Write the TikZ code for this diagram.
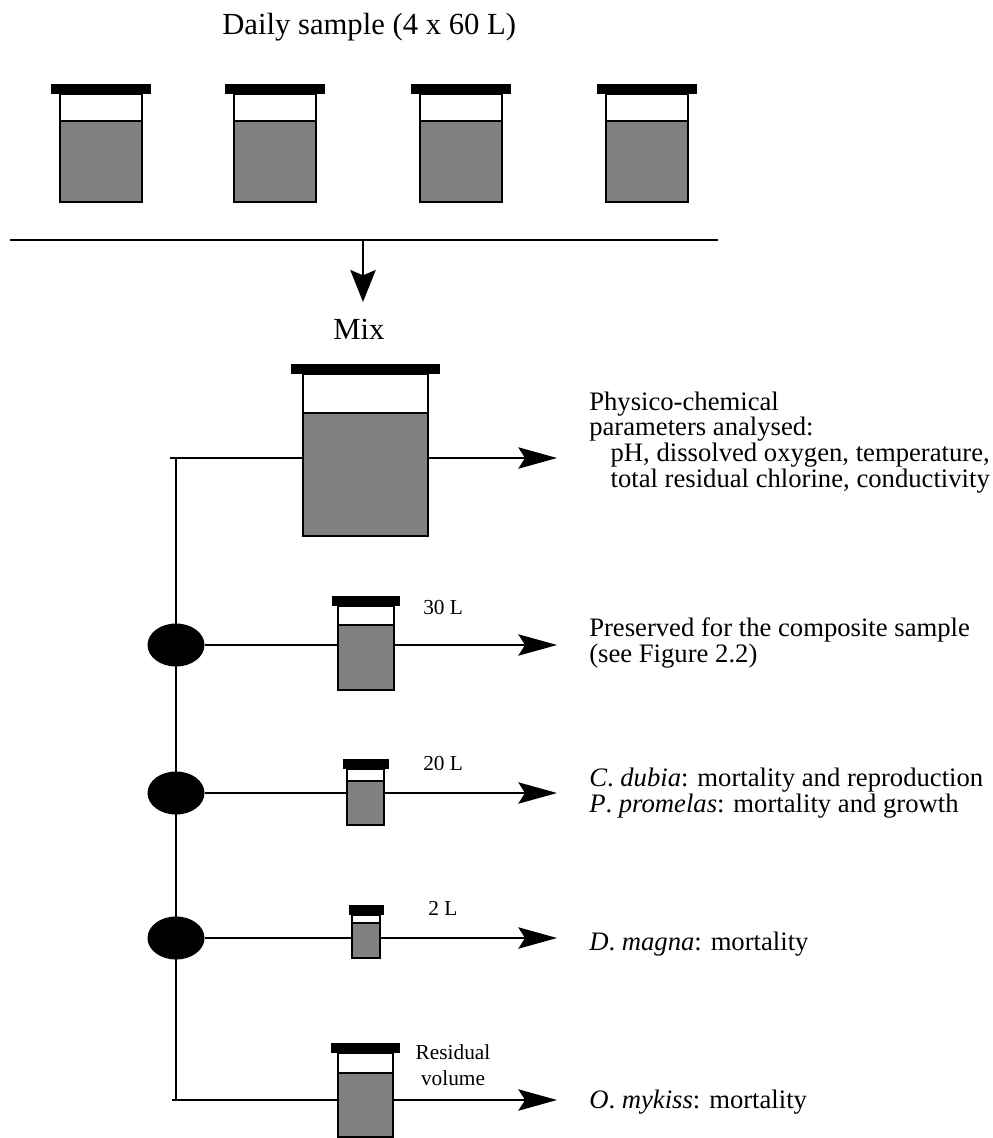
\documentclass[tikz,border=0pt]{standalone}
\usepackage{fontspec}
\setmainfont{Liberation Serif}
\usetikzlibrary{arrows.meta,positioning,calc,shapes.geometric}
% jar: #1 name, #2 centre x, #3 top, #4 bottom, #5 liquid level, #6 width, #7 lid width
\newcommand{\jar}[7]{%
  \node[jarbody, minimum width=#6*0.75pt, minimum height=(#4-#3)*0.75pt] (#1) at (#2,{(#3+#4)/2}) {};
  \fill[liquid] (#2-#6/2,#5) rectangle (#2+#6/2,#4);
  \draw[level] (#2-#6/2,#5) -- (#2+#6/2,#5);
  \draw[jarline] (#1.south west) rectangle (#1.north east);
  \fill[lid] (#2-#7/2,#3-10) rectangle (#2+#7/2,#3);
}

\begin{document}
\begin{tikzpicture}[
  x=0.75pt, y=-0.75pt,
  font=\fontsize{20}{19.2}\selectfont,
  jarbody/.style={inner sep=0pt, outer sep=0pt},
  liquid/.style={fill=black!50},
  jarline/.style={line width=2pt},
  level/.style={line width=1.2pt},
  lid/.style={fill=black},
  link/.style={line width=1.5pt},
  arrow/.style={link, -{Stealth[length=29pt, width=16pt, inset=5pt]}},
  split/.style={ellipse, fill=black, minimum width=42.75pt, minimum height=32.25pt, inner sep=0pt},
  label/.style={anchor=base west, inner sep=0pt, align=left},
  big/.style={font=\fontsize{23}{26}\selectfont},
  small/.style={font=\fontsize{16}{18.8}\selectfont}
]
\useasboundingbox (0,0) rectangle (992,1138);

% daily sample
\node[label, big] (daily) at (222,35) {Daily sample (4 x 60 L)};
\foreach \cx [count=\i] in {101,275,461,647}
  \jar{j\i}{\cx}{94}{202}{121}{82}{100}
\coordinate (barL) at (10,240);
\coordinate (barR) at (718,240);
\coordinate (hub) at (363,240);
\draw[link] (barL) -- (barR);
\draw[link, -{Stealth[length=24pt, width=19pt, inset=4pt]}] (hub) -- ++(0,62);
\node[label, big] (mixlbl) at (333,339) {Mix};

% sub-samples
\jar{mix}{365.5}{374}{536}{413}{125}{149}
\jar{keep}{366}{606}{690}{625}{56}{68}
\jar{tox}{365.5}{769}{825}{781}{37}{46}
\jar{dmag}{366}{915}{958}{923}{28}{35}
\jar{rest}{365.5}{1053}{1137}{1073}{55}{69}

\coordinate (t0) at (176,458);
\coordinate (t4) at (176,1100);
\coordinate (tip) at (557,0);
\draw[link] (t0) -- (t4);
\node[split] (s1) at (176,645) {};
\node[split] (s2) at (176,793) {};
\node[split] (s3) at (176,938) {};

\draw[link] ($(t0)+(-6,0)$) -- (t0 -| mix.west);
\draw[arrow] (t0 -| mix.east) -- (t0 -| tip);
\draw[link] (s1) -- (s1 -| keep.west);
\draw[arrow] (s1 -| keep.east) -- (s1 -| tip);
\draw[link] (s2) -- (s2 -| tox.west);
\draw[arrow] (s2 -| tox.east) -- (s2 -| tip);
\draw[link] (s3) -- (s3 -| dmag.west);
\draw[arrow] (s3 -| dmag.east) -- (s3 -| tip);
\draw[link] ($(t4)+(-4,0)$) -- (t4 -| rest.west);
\draw[arrow] (t4 -| rest.east) -- (t4 -| tip);

% volumes
\node[label, small] (v30) at (423,614) {30 L};
\node[label, small] (v20) at (423,770) {20 L};
\node[label, small] (v2) at (428,915) {2 L};
\node[small, inner sep=0pt, align=center, anchor=base] (vres) at (453,1085) {Residual\\volume};

% analyses (base = last line)
\node[label] (phys) at (589,487) {Physico-chemical\\parameters analysed:\\\hspace*{16pt}pH, dissolved oxygen, temperature,\\\hspace*{16pt}total residual chlorine, conductivity};
\node[label] (comp) at (589,662) {Preserved for the composite sample\\(see Figure 2.2)};
\node[label] (cpp) at (589,812) {\textit{C}. \textit{dubia}: mortality and reproduction\\\textit{P}. \textit{promelas}: mortality and growth};
\node[label] (dm) at (589,950) {\textit{D}. \textit{magna}: mortality};
\node[label] (om) at (589,1108) {\textit{O}. \textit{mykiss}: mortality};
\end{tikzpicture}
\end{document}
